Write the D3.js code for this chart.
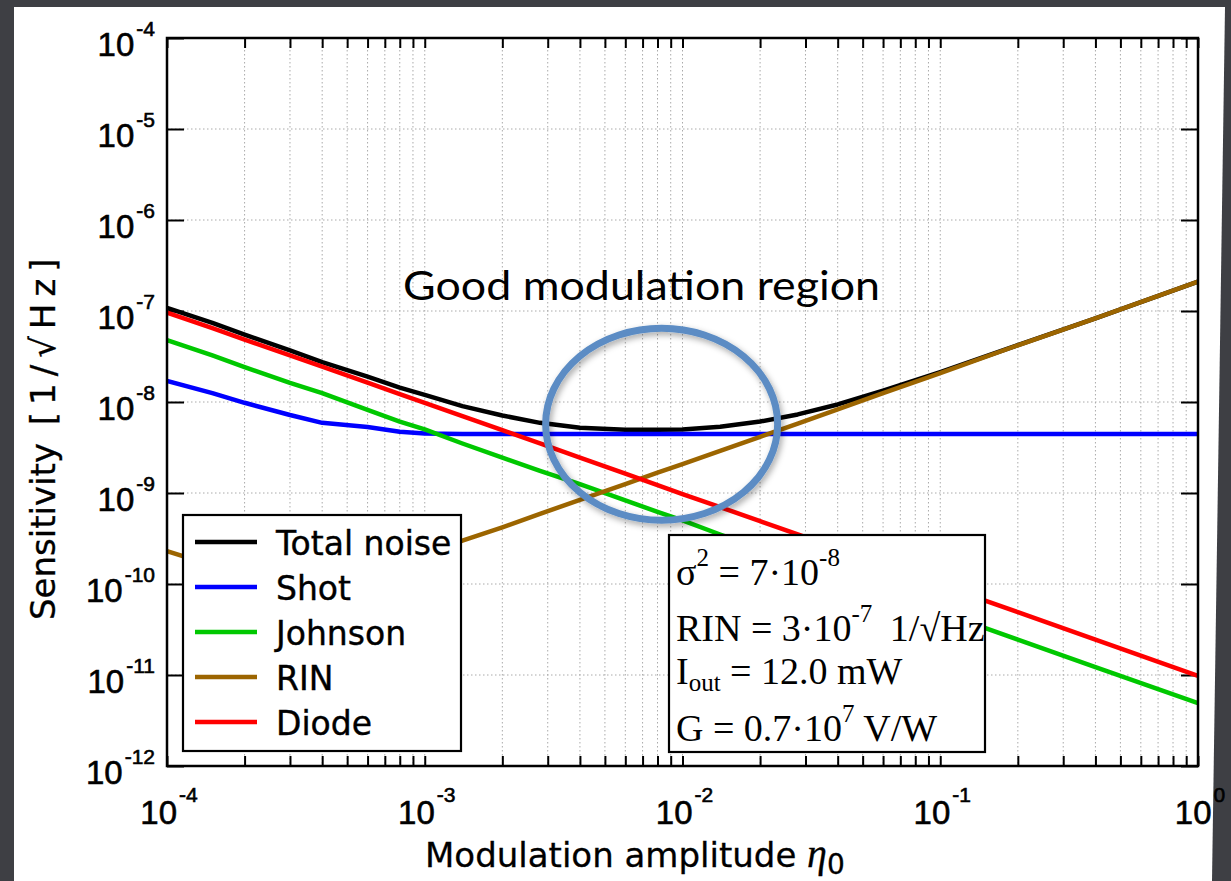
<!DOCTYPE html>
<html><head><meta charset="utf-8">
<script src="https://cdn.jsdelivr.net/npm/d3@7"></script>
<style>html,body{margin:0;padding:0;background:#3e3f44;overflow:hidden}</style>
</head><body><svg id="c" width="1231" height="881"></svg>
<script>
// ---------------- data ----------------
const eta = [1e-4,1.5e-4,2e-4,3e-4,4e-4,6e-4,8e-4,1e-3,1.4e-3,2e-3,2.8e-3,4e-3,6e-3,8e-3,1e-2,1.4e-2,2e-2,2.8e-2,4e-2,6e-2,1e-1,2e-1,4e-1,1];
const totalNoise   = [1.08e-7,7.4e-8,5.5e-8,3.7e-8,2.75e-8,1.9e-8,1.44e-8,1.2e-8,9.0e-9,7.1e-9,5.9e-9,5.2e-9,4.97e-9,4.95e-9,5.0e-9,5.35e-9,6.1e-9,7.3e-9,9.4e-9,1.33e-8,2.13e-8,4.22e-8,8.3e-8,2.1e-7];
const shotNoise    = [1.71e-8,1.25e-8,9.8e-9,7.2e-9,5.9e-9,5.3e-9,4.7e-9,4.5e-9,4.45e-9,4.45e-9,4.45e-9,4.45e-9,4.45e-9,4.45e-9,4.45e-9,4.45e-9,4.45e-9,4.45e-9,4.45e-9,4.45e-9,4.45e-9,4.45e-9,4.45e-9,4.45e-9];
const johnsonNoise = [4.8e-8,3.25e-8,2.42e-8,1.62e-8,1.25e-8,8.2e-9,6.1e-9,5.0e-9,3.5e-9,2.45e-9,1.75e-9,1.25e-9,8.3e-10,6.2e-10,5.0e-10,3.5e-10,2.45e-10,1.75e-10,1.22e-10,8.2e-11,4.9e-11,2.45e-11,1.22e-11,4.9e-12];
const rinNoise     = [2.3e-10,1.6e-10,1.3e-10,1.05e-10,1.0e-10,1.35e-10,1.7e-10,2.1e-10,3.0e-10,4.2e-10,5.9e-10,8.4e-10,1.25e-9,1.67e-9,2.08e-9,2.9e-9,4.15e-9,5.8e-9,8.3e-9,1.25e-8,2.08e-8,4.2e-8,8.3e-8,2.1e-7];
const diodeNoise   = [9.6e-8,6.5e-8,4.85e-8,3.25e-8,2.45e-8,1.63e-8,1.22e-8,9.8e-9,7.0e-9,4.9e-9,3.5e-9,2.45e-9,1.63e-9,1.22e-9,9.7e-10,7.0e-10,4.9e-10,3.5e-10,2.45e-10,1.63e-10,9.8e-11,4.9e-11,2.45e-11,9.8e-12];
const seriesNames  = ["Total noise","Shot","Johnson","RIN","Diode"];
const xTickExponents = [-4,-3,-2,-1,0];
const yTickExponents = [-12,-11,-10,-9,-8,-7,-6,-5,-4];
const regionLabel = "Good modulation region";
const regionCenter = [8.3e-3, 5.7e-9];
const xTitle = "Modulation amplitude ";
const yTitle = "Sensitivity";
const yTitleUnit = " [1/√Hz]";

// ---------------- styling ----------------
const colors = {"Total noise":"#000000","Shot":"#0000ff","Johnson":"#00c800","RIN":"#9c6500","Diode":"#ff0000"};
const seriesData = {"Total noise":totalNoise,"Shot":shotNoise,"Johnson":johnsonNoise,"RIN":rinNoise,"Diode":diodeNoise};
const drawOrder = ["Total noise","Shot","Johnson","RIN","Diode"];

const svg = d3.select("#c");
const L = 167, R = 1198, T = 38, B = 766;
const x = d3.scaleLog().domain([1e-4,1]).range([L,R]);
const y = d3.scaleLog().domain([1e-12,1e-4]).range([B,T]);

// background + white panel
svg.append("rect").attr("width",1231).attr("height",881).attr("fill","#3e3f44");
svg.append("polygon").attr("points","14,7 1225,7 1212,881 14,881").attr("fill","#ffffff");

const defs = svg.append("defs");
defs.append("clipPath").attr("id","plotclip").append("rect")
  .attr("x",L).attr("y",T).attr("width",R-L).attr("height",B-T);
const f = defs.append("filter").attr("id","shadow").attr("x","-20%").attr("y","-20%").attr("width","140%").attr("height","140%");
f.append("feDropShadow").attr("dx",2).attr("dy",3).attr("stdDeviation",3).attr("flood-color","#000").attr("flood-opacity",0.35);

// minor/major x tick values
const xAll = [];
for (let e=-4;e<0;e++) for (let m=1;m<10;m++) xAll.push(m*Math.pow(10,e));
xAll.push(1);
const yMajor = yTickExponents.map(e=>Math.pow(10,e));

// grid
const grid = svg.append("g").attr("stroke","#aaaaaa").attr("stroke-width",1).attr("stroke-dasharray","1.5,2.5");
grid.selectAll("line.v").data(xAll.filter(v=>v>1e-4 && v<1)).join("line")
  .attr("x1",d=>x(d)).attr("x2",d=>x(d)).attr("y1",T).attr("y2",B);
grid.selectAll("line.h").data(yMajor.filter(v=>v>1e-12 && v<1e-4)).join("line")
  .attr("y1",d=>y(d)).attr("y2",d=>y(d)).attr("x1",L).attr("x2",R);

// axes ticks (inward)
const axStyle = g => { g.select(".domain").remove(); g.selectAll("line").attr("stroke","#000").attr("stroke-width",2); };
svg.append("g").attr("transform",`translate(0,${B})`).call(d3.axisBottom(x).tickValues(xAll).tickSize(-10).tickFormat("")).call(axStyle);
svg.append("g").attr("transform",`translate(0,${T})`).call(d3.axisTop(x).tickValues(xAll).tickSize(-10).tickFormat("")).call(axStyle);
svg.append("g").attr("transform",`translate(${L},0)`).call(d3.axisLeft(y).tickValues(yMajor).tickSize(-17).tickFormat("")).call(axStyle);
svg.append("g").attr("transform",`translate(${R},0)`).call(d3.axisRight(y).tickValues(yMajor).tickSize(-17).tickFormat("")).call(axStyle);

// curves
const line = d3.line().x(d=>x(d[0])).y(d=>y(d[1]));
const curves = svg.append("g").attr("clip-path","url(#plotclip)");
drawOrder.forEach(name=>{
  curves.append("path").datum(eta.map((e,i)=>[e,seriesData[name][i]]))
    .attr("d",line).attr("fill","none").attr("stroke",colors[name])
    .attr("stroke-width",4.5).attr("stroke-linejoin","round");
});

// frame
svg.append("rect").attr("x",L).attr("y",T).attr("width",R-L).attr("height",B-T)
  .attr("fill","none").attr("stroke","#000").attr("stroke-width",2.5);

// tick labels
const xl = svg.append("g").attr("font-family","'Liberation Sans', Arial, sans-serif").attr("fill","#000")
  .attr("stroke","#000").attr("stroke-width",0.6);
xTickExponents.forEach(e=>{
  const t = xl.append("text").attr("x",x(Math.pow(10,e))+2).attr("y",824).attr("text-anchor","middle").attr("font-size",33);
  t.append("tspan").text("10");
  t.append("tspan").attr("dy",-22).attr("dx",2).attr("font-size",21).text(String(e));
});
yTickExponents.forEach(e=>{
  const t = xl.append("text").attr("x",155).attr("y",y(Math.pow(10,e))+18).attr("text-anchor","end").attr("font-size",33);
  t.append("tspan").text("10");
  t.append("tspan").attr("dy",-20).attr("dx",2).attr("font-size",21).text(String(e));
});

// axis titles
const xt = svg.append("text").attr("x",425).attr("y",867).attr("font-family","'DejaVu Sans', sans-serif").attr("font-size",34).attr("fill","#000")
  .attr("stroke","#000").attr("stroke-width",0.3);
xt.append("tspan").text(xTitle);
xt.append("tspan").attr("font-family","'Liberation Serif', serif").attr("font-style","italic").attr("font-size",40).text("η");
xt.append("tspan").attr("dy",7).attr("font-size",28).text("0");

const yt = svg.append("text").attr("transform","translate(55,620) rotate(-90)")
  .attr("font-family","'DejaVu Sans', sans-serif").attr("font-size",34).attr("fill","#000")
  .attr("stroke","#000").attr("stroke-width",0.3);
yt.append("tspan").text(yTitle);
yt.append("tspan").attr("letter-spacing",7).text(yTitleUnit);

// legend
const lg = svg.append("g");
lg.append("rect").attr("x",183).attr("y",515).attr("width",278).attr("height",236)
  .attr("fill","#fff").attr("stroke","#000").attr("stroke-width",2.2);
seriesNames.forEach((n,i)=>{
  const cy = 542 + i*45;
  lg.append("line").attr("x1",195).attr("x2",257).attr("y1",cy).attr("y2",cy).attr("stroke",colors[n]).attr("stroke-width",4.5);
  lg.append("text").attr("x",276).attr("y",cy+13).attr("font-family","'DejaVu Sans', sans-serif").attr("font-size",33)
    .attr("fill","#000").attr("stroke","#000").attr("stroke-width",0.4).text(n);
});

// parameter box
const pb = svg.append("g").attr("font-family","'Liberation Serif', 'Times New Roman', serif").attr("fill","#000");
pb.append("rect").attr("x",669).attr("y",535).attr("width",316).attr("height",217)
  .attr("fill","#fff").attr("stroke","#000").attr("stroke-width",2.2);
const params = [
  {y:585, parts:[["σ",0],["2",-1],[" = 7·10",0],["-8",-1]]},
  {y:641, parts:[["RIN = 3·10",0],["-7",-1],[" 1/√Hz",0]]},
  {y:684, parts:[["I",0],["out",1],[" = 12.0 mW",0]]},
  {y:741, parts:[["G = 0.7·10",0],["7",-1],[" V/W",0]]}
];
params.forEach(p=>{
  const t = pb.append("text").attr("x",676).attr("y",p.y).attr("font-size",38);
  let cur = 0;
  p.parts.forEach(([s,k])=>{
    const target = k===-1 ? -19 : (k===1 ? 7 : 0);
    const ts = t.append("tspan").attr("dy",target-cur).text(s);
    if (k!==0) ts.attr("font-size",25);
    if (s===" 1/√Hz") ts.attr("dx",8);
    cur = target;
  });
});

// annotation
svg.append("text").attr("x",403).attr("y",300).attr("font-family","Lato, 'Open Sans', sans-serif")
  .attr("font-size",40).attr("textLength",477).attr("lengthAdjust","spacingAndGlyphs").attr("fill","#000").text(regionLabel);
svg.append("ellipse").attr("cx",x(regionCenter[0])).attr("cy",y(regionCenter[1])).attr("rx",116).attr("ry",96)
  .attr("fill","none").attr("stroke","#5b8cc4").attr("stroke-width",7).attr("filter","url(#shadow)");
</script></body></html>
